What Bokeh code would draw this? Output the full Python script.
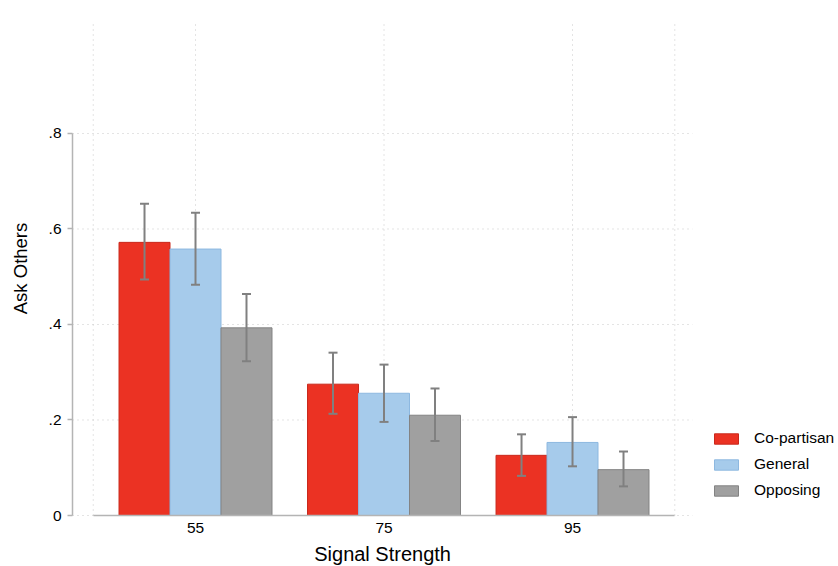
import math
from bokeh.plotting import figure
from bokeh.models import (ColumnDataSource, Whisker, FixedTicker, Legend, LegendItem,
                          Range1d, Label)
from bokeh.transform import dodge
from bokeh.embed import file_html
from bokeh.resources import INLINE

# ---- data ----
signal = [55, 75, 95]
tick_labels = ["55", "75", "95"]
groups = ["Co-partisan", "General", "Opposing"]

copartisan = [0.572, 0.275, 0.126]
copartisan_lo = [0.494, 0.213, 0.083]
copartisan_hi = [0.653, 0.341, 0.170]

general = [0.558, 0.256, 0.153]
general_lo = [0.483, 0.196, 0.103]
general_hi = [0.634, 0.316, 0.206]

opposing = [0.393, 0.210, 0.096]
opposing_lo = [0.323, 0.156, 0.061]
opposing_hi = [0.464, 0.266, 0.134]

y_ticks = [0, 0.2, 0.4, 0.6, 0.8]
y_tick_labels = ["0", ".2", ".4", ".6", ".8"]

# ---- layout / styling ----
FONT = "Liberation Sans"
fills = ["#EB3223", "#A6CBEB", "#A0A0A0"]
borders = ["#C9281C", "#8DB8E0", "#838383"]
err_color = "#808080"
grid_color = "#C8C8C8"
axis_color = "#B4B4B4"
bar_w = 5.41
offsets = [-bar_w, 0.0, bar_w]

# plot region (Stata-style) in data units
region_x0, region_x1 = 41.95, 107.75
region_y1 = 1.0346
axis_x0, axis_x1 = 44.15, 105.85

p = figure(width=838, height=566, output_backend="svg", toolbar_location=None,
           x_range=Range1d(34.31, 123.22), y_range=Range1d(-0.1068, 1.0785),
           min_border=0)
p.outline_line_color = None
p.background_fill_color = "white"
p.border_fill_color = "white"
p.xgrid.visible = False
p.ygrid.visible = False

# grid lines limited to the plot region
p.segment(x0=[region_x0] * len(y_ticks), x1=[region_x1] * len(y_ticks),
          y0=y_ticks, y1=y_ticks, line_color=grid_color, line_width=1, line_dash="1 4")
vx = [axis_x0] + signal + [axis_x1]
p.segment(x0=vx, x1=vx, y0=[0] * len(vx), y1=[region_y1] * len(vx),
          line_color=grid_color, line_width=1, line_dash="1 4")

series = [(copartisan, copartisan_lo, copartisan_hi),
          (general, general_lo, general_hi),
          (opposing, opposing_lo, opposing_hi)]

items = []
for i, (vals, lo, hi) in enumerate(series):
    src = ColumnDataSource(dict(x=signal, top=vals, lower=lo, upper=hi))
    r = p.vbar(x=dodge("x", offsets[i]), top="top", bottom=0, width=bar_w, source=src,
               fill_color=fills[i], line_color=borders[i], line_width=1)
    items.append(LegendItem(label=groups[i], renderers=[r]))

    w = Whisker(base=dodge("x", offsets[i]), lower="lower", upper="upper", source=src,
                line_color=err_color, line_width=2, level="overlay")
    for h in (w.upper_head, w.lower_head):
        h.size = 9
        h.line_color = err_color
        h.line_width = 2
    p.add_layout(w)

# axes (fixed inside the plot area, Stata-style)
xa = p.xaxis[0]
xa.fixed_location = 0
xa.ticker = FixedTicker(ticks=signal)
xa.major_label_overrides = {s: t for s, t in zip(signal, tick_labels)}
xa.bounds = (axis_x0, axis_x1)
xa.major_tick_out = 0
xa.major_tick_in = 0
xa.minor_tick_out = 0
xa.minor_tick_in = 0
xa.axis_line_color = axis_color
xa.axis_line_width = 1.5
xa.major_label_text_font = FONT
xa.major_label_text_font_size = "15.5px"
xa.major_label_text_color = "black"
xa.major_label_standoff = 7

ya = p.yaxis[0]
ya.fixed_location = region_x0
ya.ticker = FixedTicker(ticks=y_ticks)
ya.major_label_overrides = {v: t for v, t in zip(y_ticks, y_tick_labels)}
ya.bounds = (0, 0.8)
ya.major_tick_out = 5
ya.major_tick_in = 0
ya.minor_tick_out = 0
ya.minor_tick_in = 0
ya.major_tick_line_color = axis_color
ya.major_tick_line_width = 1.5
ya.axis_line_color = axis_color
ya.axis_line_width = 1.5
ya.major_label_text_font = FONT
ya.major_label_text_font_size = "15.5px"
ya.major_label_text_color = "black"
ya.major_label_standoff = 6

# axis titles
p.add_layout(Label(x=(region_x0 + region_x1) / 2, y=0, y_offset=-38,
                   text="Signal Strength", text_align="center", text_baseline="middle",
                   text_font=FONT, text_font_size="20px", text_color="black"))
p.add_layout(Label(x=region_x0, y=region_y1 / 2, x_offset=-52.5,
                   text="Ask Others", angle=math.pi / 2, text_align="center",
                   text_baseline="middle", text_font=FONT, text_font_size="18.5px",
                   text_color="black"))

legend = Legend(items=items, location=(711, 67), orientation="vertical")
legend.border_line_color = None
legend.background_fill_alpha = 0
legend.glyph_width = 30
legend.glyph_height = 13
legend.label_height = 13
legend.spacing = 8
legend.padding = 0
legend.margin = 0
legend.label_standoff = 13
legend.label_text_font = FONT
legend.label_text_font_size = "15.5px"
legend.label_text_color = "black"
p.add_layout(legend)

open("out.html", "w").write(file_html(p, INLINE))
